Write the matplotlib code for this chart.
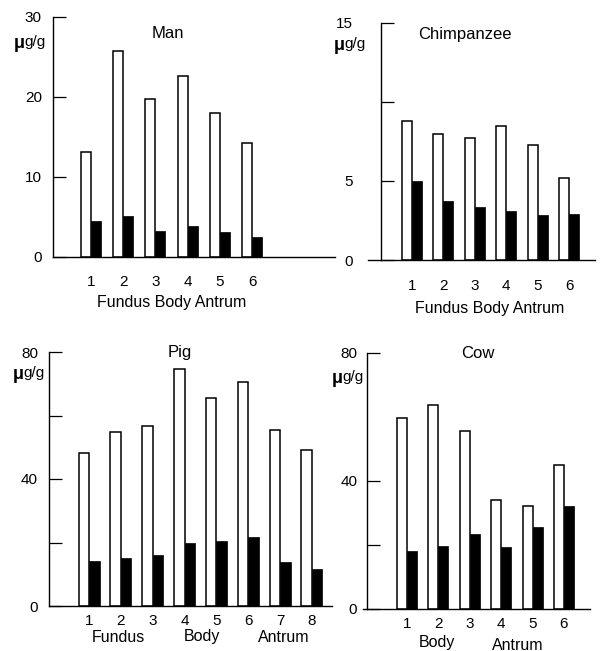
import matplotlib
matplotlib.use('Agg')
import matplotlib.pyplot as plt
from matplotlib.lines import Line2D
import numpy as np

plt.rcParams['font.family'] = ['Liberation Sans', 'DejaVu Sans']

W, H = 601, 651

# ---------------- data ----------------
man_sites = ['1', '2', '3', '4', '5', '6']
man_white = [13.1, 25.8, 19.8, 22.6, 18.0, 14.2]
man_black = [4.5, 5.1, 3.2, 3.9, 3.1, 2.5]

chimp_sites = ['1', '2', '3', '4', '5', '6']
chimp_white = [8.8, 8.0, 7.7, 8.5, 7.3, 5.2]
chimp_black = [5.0, 3.75, 3.35, 3.1, 2.85, 2.9]

pig_sites = ['1', '2', '3', '4', '5', '6', '7', '8']
pig_white = [48.2, 54.8, 56.7, 74.6, 65.5, 70.6, 55.4, 49.1]
pig_black = [14.2, 15.1, 16.0, 19.8, 20.5, 21.7, 13.9, 11.6]

cow_sites = ['1', '2', '3', '4', '5', '6']
cow_white = [59.6, 63.6, 55.5, 34.2, 32.3, 45.1]
cow_black = [18.2, 19.7, 23.5, 19.4, 25.7, 32.3]

fig = plt.figure(figsize=(W / 100, H / 100), dpi=100)
fig.patch.set_facecolor('white')


def fx(px):
    return px / W


def fy(py):
    return 1 - py / H


def panel(l, t, r, b, xlim, ymax, yticks, ylabels, sites, white, black,
          width, ypad, xpad):
    ax = fig.add_axes([fx(l), fy(b), (r - l) / W, (b - t) / H])
    x = np.arange(1, len(sites) + 1)
    ax.bar(x - width / 2, white, width, facecolor='white', edgecolor='black',
           linewidth=1.1, zorder=2)
    ax.bar(x + width / 2, black, width, facecolor='black', edgecolor='black',
           linewidth=0.5, zorder=2)
    ax.set_xlim(*xlim)
    ax.set_ylim(0, ymax)
    for s in ['top', 'right']:
        ax.spines[s].set_visible(False)
    for s in ['left', 'bottom']:
        ax.spines[s].set_linewidth(1.0)
    ax.set_yticks(yticks)
    ax.set_yticklabels(ylabels)
    ax.tick_params(axis='y', direction='in', length=9, width=0.9,
                   labelsize=11, pad=ypad)
    ax.set_xticks(x)
    ax.set_xticklabels(sites)
    ax.tick_params(axis='x', length=0, labelsize=11, pad=xpad)
    ax.patch.set_alpha(0)
    return ax


def ftext(px, py, s, size=11.5, ha='center'):
    return fig.text(fx(px), fy(py), s, ha=ha, va='center', fontsize=size)


def unit(px, py):
    g = ftext(px, py, 'g/g', size=11, ha='right')
    fig.text(0, 0, '')
    from matplotlib.text import Annotation
    a = Annotation('μ', xy=(0.02, 0.42), xycoords=g, ha='right', va='center',
                   fontsize=13, fontweight='bold')
    fig.add_artist(a)


def fline(x0, x1, y):
    fig.add_artist(Line2D([fx(x0), fx(x1)], [fy(y), fy(y)], color='black',
                          linewidth=1.0, transform=fig.transFigure))


# Man
panel(53, 17, 335, 257, (1 - 38 / 32.2, 6 + 83 / 32.2), 30,
      [0, 10, 20, 30], ['0', '10', '20', '30'],
      man_sites, man_white, man_black, 0.31, 8, 13)
ftext(168, 33, 'Man', size=12)
unit(46, 42)
ftext(172, 303, 'Fundus Body Antrum')

# Chimpanzee
panel(381, 23, 595, 260, (1 - 31 / 31.4, 6 + 26 / 31.4), 15,
      [0, 5, 10, 15], ['0', '5', '', '15'],
      chimp_sites, chimp_white, chimp_black, 0.32, 20, 14)
fline(368, 381, 260)
ftext(465, 35, 'Chimpanzee', size=12)
unit(366, 44)
ftext(490, 308, 'Fundus Body Antrum')

# Pig
panel(49, 352, 332, 606, (1 - 40 / 31.8, 8 + 20 / 31.8), 80,
      [0, 20, 40, 60, 80], ['0', '', '40', '', '80'],
      pig_sites, pig_white, pig_black, 0.33, 8, 6)
ftext(180, 353, 'Pig', size=12)
unit(45, 373)
ftext(118, 637, 'Fundus')
ftext(202, 637, 'Body')
ftext(284, 637, 'Antrum')

# Cow
panel(367, 353, 590, 609, (1 - 40 / 31.4, 6 + 26 / 31.4), 80,
      [0, 20, 40, 80], ['0', '', '40', '80'],
      cow_sites, cow_white, cow_black, 0.32, 7, 6)
fline(363, 367, 609)
ftext(478, 354, 'Cow', size=12)
unit(364, 377)
ftext(437, 643, 'Body')
ftext(518, 645, 'Antrum')

fig.savefig('out.png', dpi=100, facecolor='white')
